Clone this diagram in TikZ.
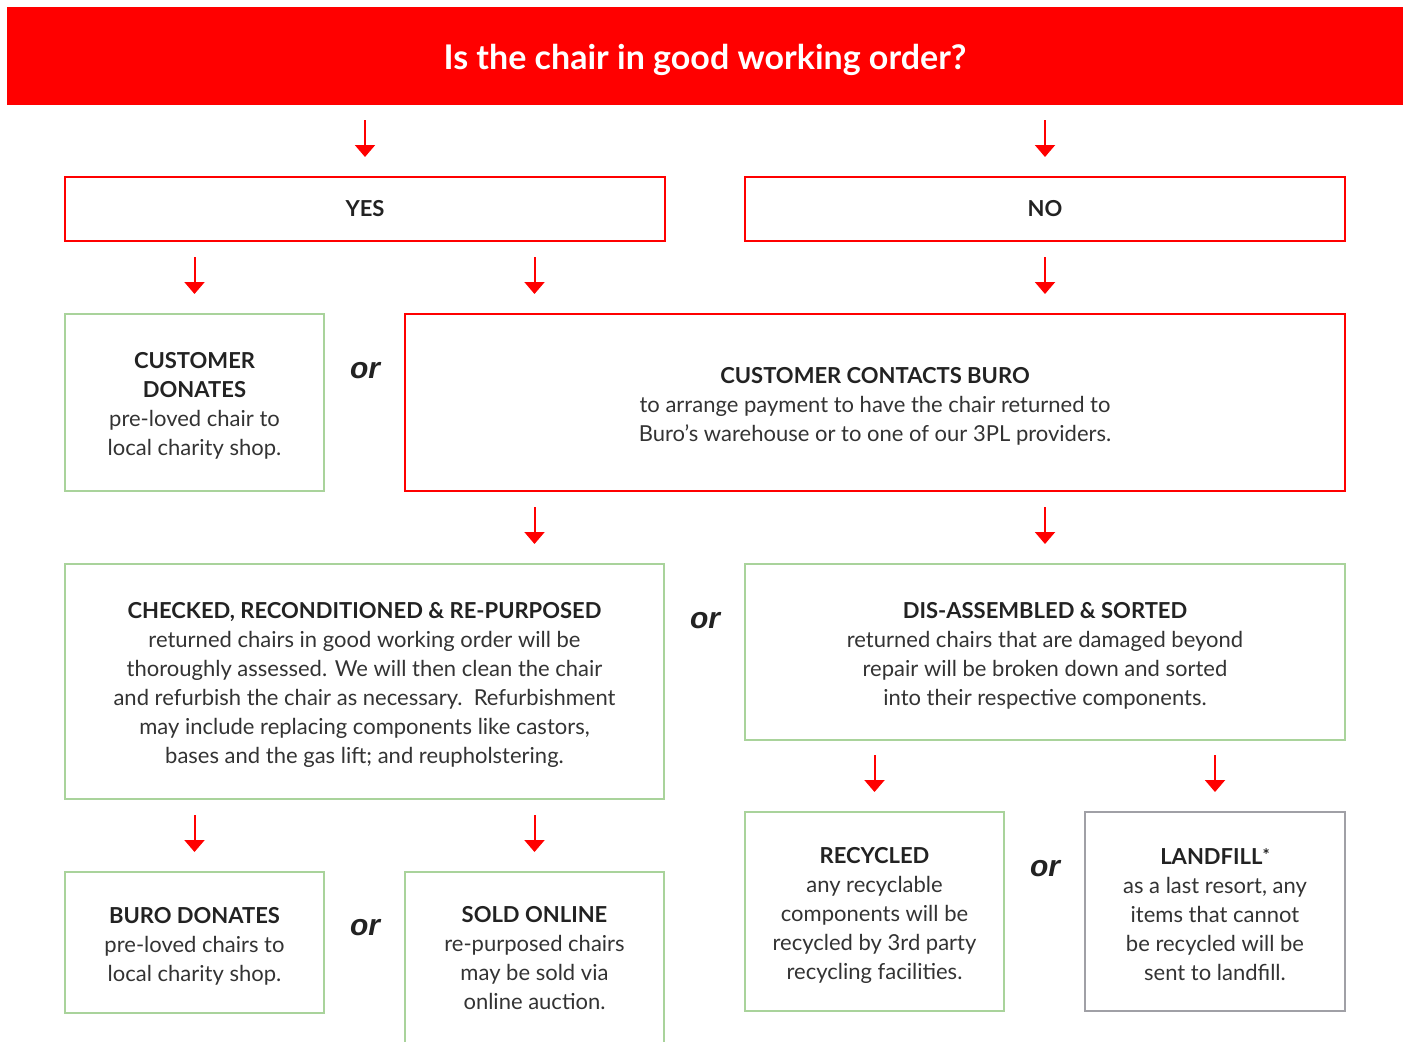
\documentclass[tikz,border=0pt]{standalone}
\usepackage{fontspec}
\setmainfont{Lato}
\newfontfamily\orfont{Liberation Sans}
\usetikzlibrary{arrows.meta,calc}

\definecolor{burored}{RGB}{255,0,0}
\definecolor{boxgreen}{RGB}{169,211,155}
\definecolor{boxgrey}{RGB}{160,160,166}
\definecolor{bodytext}{RGB}{51,51,51}
\definecolor{headtext}{RGB}{34,34,34}

\tikzset{
  box/.style={draw, line width=1pt, inner sep=0pt, align=center,
    font=\fontsize{11}{14.5}\selectfont, text=bodytext},
  redbox/.style={box, draw=burored},
  greenbox/.style={box, draw=boxgreen},
  greybox/.style={box, draw=boxgrey},
  ortext/.style={font=\orfont\bfseries\itshape\fontsize{15}{18}\selectfont, text=headtext},
  arr/.style={draw=burored, line width=1pt, -{Triangle[width=10pt,length=6pt]}, shorten >=9.5pt},
}
\newcommand{\hd}[1]{{\bfseries\color{headtext}#1}}
% first heading line, set a little lower in its box
\newcommand{\hdtop}[1]{\hd{\rule{0pt}{11.5pt}#1}}

\begin{document}
\begin{tikzpicture}[x=0.5pt,y=-0.5pt]
\useasboundingbox (0,0) rectangle (1407,1041);

% title bar
\node[fill=burored, minimum width=698pt, minimum height=49pt, inner sep=0pt,
  text height=17pt, text depth=3.5pt,
  text=white, font=\bfseries\fontsize{17}{20}\selectfont] (title) at (705,56)
  {Is the chair in good working order?};

% yes / no
\node[redbox, minimum width=300pt, minimum height=32pt] (yes) at (365,209) {\hd{YES}};
\node[redbox, minimum width=300pt, minimum height=32pt] (no) at (1045,209) {\hd{NO}};

% second row
\node[greenbox, minimum width=129.5pt, minimum height=88.5pt] (cust) at (194.5,402.5)
  {\hdtop{CUSTOMER}\\ \hd{DONATES}\\ pre-loved chair to\\ local charity shop.};
\node[redbox, minimum width=470pt, minimum height=88.5pt] (contact) at (875,402.5)
  {\hdtop{CUSTOMER CONTACTS BURO}\\ to arrange payment to have the chair returned to\\
   Buro's warehouse or to one of our 3PL providers.};

% third row
\node[greenbox, minimum width=299.5pt, minimum height=117.5pt] (checked) at (364.5,681.5)
  {\hdtop{CHECKED, RECONDITIONED \& RE-PURPOSED}\\ returned chairs in good working order will be\\
   thoroughly assessed. We will then clean the chair\\
   and refurbish the chair as necessary.\ \ Refurbishment\\
   may include replacing components like castors,\\ bases and the gas lift; and reupholstering.};
\node[greenbox, minimum width=300pt, minimum height=88pt] (dis) at (1045,652)
  {\hdtop{DIS-ASSEMBLED \& SORTED}\\ returned chairs that are damaged beyond\\
   repair will be broken down and sorted\\ into their respective components.};

% last row
\node[greenbox, minimum width=129.5pt, minimum height=70.5pt] (buro) at (194.5,942.5)
  {\hdtop{BURO DONATES}\\ pre-loved chairs to\\ local charity shop.};
\node[greenbox, minimum width=129.5pt, minimum height=86pt] (sold) at (534.5,958)
  {\hd{SOLD ONLINE}\\ re-purposed chairs\\ may be sold via\\ online auction.};
\node[greenbox, minimum width=129.5pt, minimum height=99.5pt] (recyc) at (874.5,911.5)
  {\hdtop{RECYCLED}\\ any recyclable\\ components will be\\ recycled by 3rd party\\ recycling facilities.};
\node[greybox, minimum width=130pt, minimum height=99.5pt] (land) at (1215,911.5)
  {\hdtop{LANDFILL{\fontsize{8.5}{8.5}\selectfont\raisebox{0.45ex}{*}}}\\ as a last resort, any\\
   items that cannot\\ be recycled will be\\ sent to landfill.};

% or labels
\node[ortext] (or1) at (365,371) {or};
\node[ortext] (or2) at (705,621) {or};
\node[ortext] (or3) at (365,928) {or};
\node[ortext] (or4) at (1045,869) {or};

% arrow targets off the box centres
\coordinate (c1) at (sold.north |- contact.north);
\coordinate (c2) at (no.north |- contact.north);
\coordinate (c3) at (sold.north |- checked.north);

\foreach \t in {yes.north, no.north, cust.north, c1, c2, c3, dis.north,
                buro.north, sold.north, recyc.north, land.north}
  \draw[arr] ($(\t)+(0,-56)$) -- (\t);
\end{tikzpicture}
\end{document}
